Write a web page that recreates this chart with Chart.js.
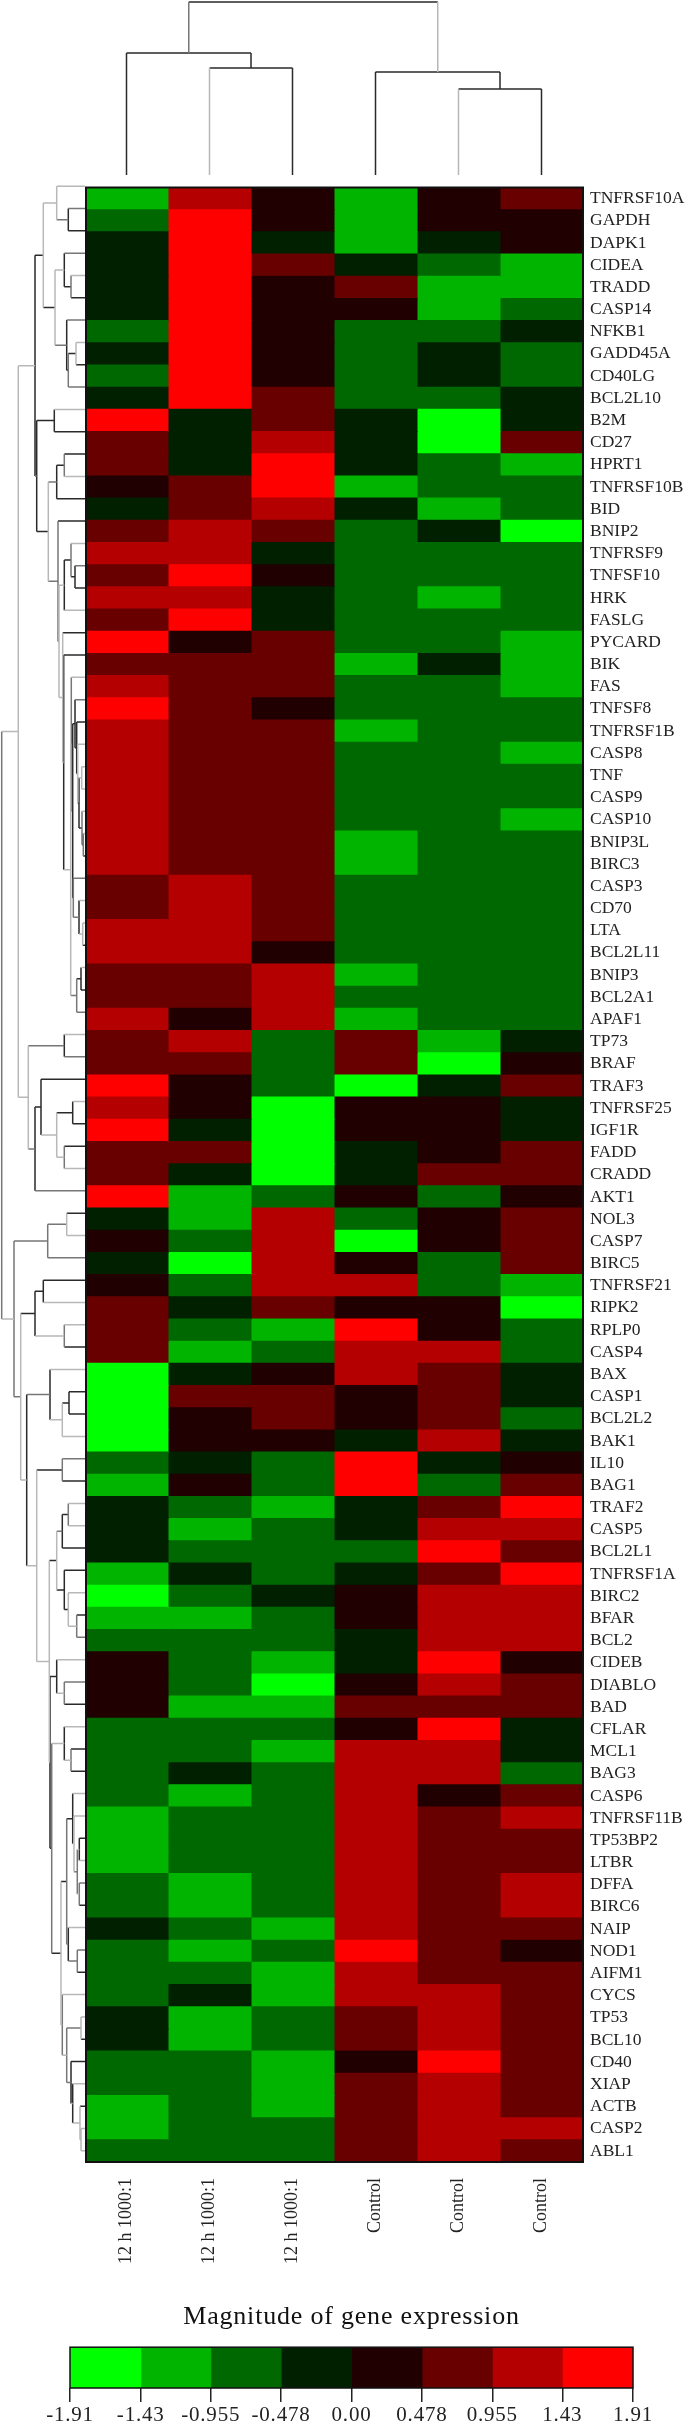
<!DOCTYPE html>
<html><head><meta charset="utf-8"><title>Magnitude of gene expression</title>
<script src="https://cdn.jsdelivr.net/npm/chart.js@4"></script>
<style>
html,body{margin:0;padding:0;background:#fff;width:685px;height:2426px;overflow:hidden}
canvas{position:absolute;filter:blur(0.65px)}
</style></head><body>
<canvas id="top" style="left:85px;top:0" width="498" height="175"></canvas>
<canvas id="left" style="left:0;top:175px" width="85" height="1987"></canvas>
<canvas id="heat" style="left:85px;top:170px" width="600" height="2102"></canvas>
<canvas id="bar" style="left:0;top:2290px" width="685" height="136"></canvas>
<script>
// expression levels
const G=-1.67,g=-1.19,d=-0.72,k=-0.24,x=0.24,m=0.72,r=1.19,R=1.67;

const genes=["TNFRSF10A","GAPDH","DAPK1","CIDEA","TRADD","CASP14","NFKB1","GADD45A","CD40LG","BCL2L10",
"B2M","CD27","HPRT1","TNFRSF10B","BID","BNIP2","TNFRSF9","TNFSF10","HRK","FASLG",
"PYCARD","BIK","FAS","TNFSF8","TNFRSF1B","CASP8","TNF","CASP9","CASP10","BNIP3L",
"BIRC3","CASP3","CD70","LTA","BCL2L11","BNIP3","BCL2A1","APAF1","TP73","BRAF",
"TRAF3","TNFRSF25","IGF1R","FADD","CRADD","AKT1","NOL3","CASP7","BIRC5","TNFRSF21",
"RIPK2","RPLP0","CASP4","BAX","CASP1","BCL2L2","BAK1","IL10","BAG1","TRAF2",
"CASP5","BCL2L1","TNFRSF1A","BIRC2","BFAR","BCL2","CIDEB","DIABLO","BAD","CFLAR",
"MCL1","BAG3","CASP6","TNFRSF11B","TP53BP2","LTBR","DFFA","BIRC6","NAIP","NOD1",
"AIFM1","CYCS","TP53","BCL10","CD40","XIAP","ACTB","CASP2","ABL1"];
const sampleLabels=["12 h 1000:1","12 h 1000:1","12 h 1000:1","Control","Control","Control"];

const sample1=[g,d,k,k,k,k,d,k,d,k, R,m,m,x,k,m,r,m,r,m, R,m,r,R,r,r,r,r,r,r, r,m,m,r,r,m,m,r,m,m,
 R,r,R,m,m,R,k,x,k,x, m,m,m,G,G,G,G,d,g,k, k,k,g,G,g,d,x,x,x,d, d,d,d,g,g,g,d,d,k,d, d,d,k,k,d,d,g,g,d];
const sample2=[r,R,R,R,R,R,R,R,R,R, k,k,k,m,m,r,r,R,r,R, x,m,m,m,m,m,m,m,m,m, m,r,r,r,r,m,m,x,r,m,
 x,x,k,m,k,g,g,d,G,d, k,d,g,k,m,x,x,k,x,d, g,d,k,d,g,d,d,d,g,d, d,k,g,d,d,d,g,g,d,g, d,k,g,g,d,d,d,d,d];
const sample3=[x,x,k,m,x,x,x,x,x,m, m,r,R,R,r,m,k,x,k,k, m,m,m,x,m,m,m,m,m,m, m,m,m,m,x,r,r,r,d,d,
 d,G,G,G,G,d,r,r,r,r, m,g,d,x,m,m,x,d,d,g, d,d,d,k,d,d,g,G,g,d, g,d,d,d,d,d,d,d,g,d, g,g,d,d,g,g,g,d,d];
const sample4=[g,g,g,k,m,x,d,d,d,d, k,k,k,g,k,d,d,d,d,d, d,g,d,d,g,d,d,d,d,g, g,d,d,d,d,g,d,g,m,m,
 G,x,x,k,k,x,d,G,x,r, x,R,r,r,x,x,k,R,R,k, k,d,k,x,x,k,k,x,m,x, r,r,r,r,r,r,r,r,r,R, r,r,m,m,x,m,m,m,m];
const sample5=[x,x,k,d,g,g,d,k,k,d, G,G,d,d,g,k,d,d,g,d, d,k,d,d,d,d,d,d,d,d, d,d,d,d,d,d,d,d,g,G,
 k,x,x,x,m,d,x,x,d,d, x,x,r,m,m,m,r,k,d,m, r,R,m,r,r,r,R,r,m,R, r,r,x,m,m,m,m,m,m,m, m,r,r,r,R,r,r,r,r];
const sample6=[m,x,x,g,g,d,k,d,d,k, k,m,g,d,d,G,d,d,d,d, g,g,g,d,d,g,d,d,g,d, d,d,d,d,d,d,d,d,k,x,
 m,k,k,m,m,x,m,m,m,g, G,d,d,k,k,d,k,x,m,R, r,m,R,r,r,r,x,m,m,k, k,d,m,r,m,m,r,r,m,x, m,m,m,m,m,m,m,r,m];

const legendTicks=[-1.91,-1.43,-0.955,-0.478,0,0.478,0.955,1.43,1.91];
const legendTickLabels=["-1.91","-1.43","-0.955","-0.478","0.00","0.478","0.955","1.43","1.91"];
const legendColors=["#00ff00","#00b400","#006800","#002000","#200000","#680000","#b40000","#ff0000"];
const legendTitle="Magnitude of gene expression";

// dendrograms: [merge distance, shades of (span, first arm, second arm), child, child]; a plain number is a leaf
const sampleTree=[173,"DML",[122,"DDD",1,[107,"DLD",2,3]],[103,"DDD",4,[86,"DLD",5,6]]];
const geneTreeA=[41.7,"LLD",[28.3,"LLM",1,[16.7,"DMD",2,3]],
 [30,"LLM",[20.7,"DMD",4,[14,"MLD",5,6]],[18.3,"DMD",7,[16.7,"MDM",[9,"LLD",8,9],10]]]];
const geneTreeB=[14.3,"LLM",
 [13.7,"MLD",23,[12.3,"DDD",
   [10,"DMD",24,[8.3,"DDD",25,[7.3,"LLD",26,[6,"DLD",[3.3,"LLL",27,28],[3,"MLD",29,[1.7,"MLD",30,31]]]]]],
   [11.7,"MMM",32,[6,"DLL",33,[2.3,"LLD",34,35]]]]],
 [8.3,"MDM",[4,"DLD",36,37],38]];
const geneTreeC=[36.7,"LMM",[28.3,"DDD",[20.7,"MDL",13,14],15],
 [27,"MDM",16,[26,"LLL",
   [20.7,"DDL",[14,"MLD",17,[10,"DMD",18,19]],20],
   [22.3,"LDL",21,[21.3,"DDL",22,geneTreeB]]]]];
const geneTreeD=[56.7,"LMM",[20.7,"DLM",39,40],
 [50,"DDM",[44,"DDL",41,[28.3,"LDL",[12.3,"DLD",42,43],[20.7,"MDL",44,45]]],46]];
const geneTreeE=[66.7,"LLL",[50,"DDM",geneTreeA,[48.3,"DDD",[30.7,"DLD",11,12],geneTreeC]],geneTreeD];
const geneTreeF=[24,"LDL",
 [18.3,"MDM",
   [12.3,"DLL",73,[11,"LLM",74,[7.7,"MLL",[5.7,"DDL",75,76],[5.7,"MMD",77,78]]]],
   [16.7,"DLM",79,[7.7,"MMD",80,81]]],
 [22.7,"MLL",82,[18.3,"MMM",[4,"LLD",83,84],
   [14,"DDL",85,[12.3,"DLL",86,[5,"LDL",87,[4,"LLL",88,89]]]]]]];
const geneTreeG=[35.7,"LDL",
 [28.3,"LMD",[22.7,"DDD",[16.7,"MLL",60,61],62],[20.7,"DDD",63,[16.7,"LLL",64,[8.3,"MDM",65,66]]]],
 [35,"DDD",[28.3,"DLL",67,[20.7,"MMD",68,69]],
   [33.3,"MLD",[20.7,"DLL",70,[14,"MDD",71,72]],geneTreeF]]];
const geneTreeH=[71,"MMM",[37.3,"MMM",[18.3,"LDL",47,48],49],
 [64.3,"LDL",[50,"DDL",[41.7,"DDL",50,51],[20.7,"MLD",52,53]],
   [58.3,"DML",[35,"DLL",54,[22.7,"LDL",[16,"DDD",55,56],57]],
     [48.3,"LDL",[22.7,"MMD",58,59],geneTreeG]]]];
const geneTree=[83.3,"MLL",geneTreeE,geneTreeH];

const shades={L:"#b8b8b8",M:"#777777",D:"#2a2a2a"};
const serif='"Liberation Serif","Times New Roman",serif';
Chart.defaults.animation=false;
Chart.defaults.responsive=false;
Chart.defaults.devicePixelRatio=1;
Chart.defaults.font.family=serif;

function treeLines(tree,horizontalLeaves){
  const segs={L:[],M:[],D:[]};
  const pt=(leaf,h)=>horizontalLeaves?{x:leaf,y:h}:{x:h,y:leaf};
  const add=(s,a,b)=>segs[s].push(a,b,{x:NaN,y:NaN});
  const off=horizontalLeaves?0.5:0;
  (function walk(n){
    if(typeof n==="number")return{p:n-off,h:0};
    const a=walk(n[2]),b=walk(n[3]),h=n[0],sh=n[1];
    add(sh[0],pt(a.p,h),pt(b.p,h));
    add(sh[1],pt(a.p,a.h),pt(a.p,h));
    add(sh[2],pt(b.p,b.h),pt(b.p,h));
    return{p:(a.p+b.p)/2,h};
  })(tree);
  return["L","M","D"].map(s=>({data:segs[s],showLine:true,borderColor:shades[s],borderWidth:1.5,pointRadius:0,spanGaps:false,clip:false}));
}
const plain={display:false};
const frame={id:"frame",afterDatasetsDraw(c){const a=c.chartArea,t=c.ctx,isHeat=c.canvas.id==="heat";t.save();t.strokeStyle="#111";t.lineWidth=isHeat?2:1.5;t.strokeRect(a.left+(isHeat?1:0),a.top,a.width-(isHeat?1:0),a.height);t.restore();}};
const spaced={id:"spaced",beforeDraw(c){c.ctx.letterSpacing="0.8px";}};
function colorFor(v){for(let i=0;i<legendColors.length;i++)if(v<legendTicks[i+1])return legendColors[i];return legendColors[legendColors.length-1];}

new Chart(document.getElementById("top"),{type:"scatter",data:{datasets:treeLines(sampleTree,true)},
 options:{plugins:{legend:plain,tooltip:{enabled:false}},layout:{padding:0},
  scales:{x:{display:false,min:0,max:6},y:{display:false,min:0,max:175}}}});

new Chart(document.getElementById("left"),{type:"scatter",data:{datasets:treeLines(geneTree,false)},
 options:{plugins:{legend:plain,tooltip:{enabled:false}},layout:{padding:0},
  scales:{x:{display:false,reverse:true,min:0,max:85},y:{display:false,reverse:true,min:0.5,max:89.5}}}});

const samples=[sample1,sample2,sample3,sample4,sample5,sample6];
new Chart(document.getElementById("heat"),{type:"bar",
 data:{labels:genes,datasets:samples.map((vals,i)=>({label:sampleLabels[i],data:vals.map(()=>[i,i+1]),
   backgroundColor:vals.map(colorFor),grouped:false,barPercentage:1,categoryPercentage:1,borderWidth:0,inflateAmount:0.5,xAxisID:"x",yAxisID:"y"}))},
 plugins:[frame],
 options:{indexAxis:"y",plugins:{legend:plain,tooltip:{enabled:false}},layout:{padding:{left:0,top:5,right:0,bottom:0}},
  scales:{
   x:{display:false,min:0,max:6},
   y:{type:"category",position:"right",labels:genes,grid:{display:false,drawTicks:false},border:{display:false},
      afterFit(s){s.width=102;},
      ticks:{autoSkip:false,padding:7,color:"#222",font:{size:17.5,family:serif}}},
   samplesAxis:{type:"category",axis:"x",position:"bottom",labels:sampleLabels,offset:true,grid:{display:false,drawTicks:false},border:{display:false},
      afterFit(s){s.height=110;},
      ticks:{autoSkip:false,minRotation:90,maxRotation:90,padding:16,color:"#222",font:{size:18,family:serif}}}
  }}});

new Chart(document.getElementById("bar"),{type:"bar",
 data:{labels:[""],datasets:legendColors.map((c,i)=>({data:[[legendTicks[i],legendTicks[i+1]]],backgroundColor:c,grouped:false,barPercentage:1,categoryPercentage:1,borderWidth:0,inflateAmount:0.5}))},
 plugins:[spaced,frame],
 options:{indexAxis:"y",
  plugins:{legend:plain,tooltip:{enabled:false},
   title:{display:true,text:legendTitle,fullSize:false,color:"#111",font:{size:26,weight:"normal",family:serif},padding:{top:12,bottom:14}}},
  layout:{padding:{left:70,right:52,top:0,bottom:0}},
  scales:{
   y:{display:false},
   x:{min:-1.91,max:1.91,
      afterBuildTicks(s){s.ticks=legendTicks.map(v=>({value:v}));s.getLineWidthForValue=()=>0;},
      afterFit(s){s.height=38;},
      grid:{drawOnChartArea:false,drawTicks:true,tickLength:14,color:"#222",lineWidth:1.5},border:{display:false},
      ticks:{autoSkip:false,maxRotation:0,minRotation:0,padding:1,color:"#222",font:{size:21,family:serif},
        callback(v,i){return legendTickLabels[i];}}}
  }}});
</script>
</body></html>
